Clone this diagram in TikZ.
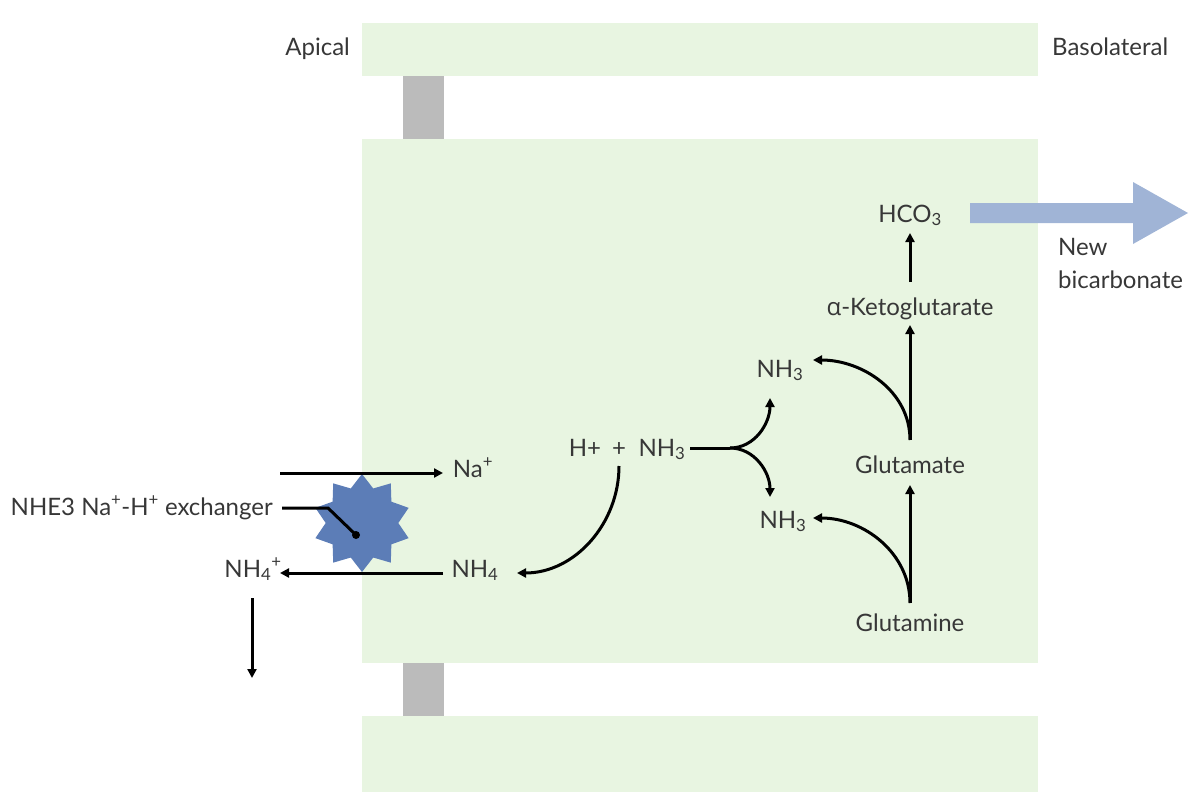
\documentclass[tikz,border=0pt]{standalone}
\usepackage{fontspec}
\setmainfont{Lato}
\newfontfamily\greekfont{Open Sans}
\usepackage{tikz}
\usetikzlibrary{arrows.meta,shapes.geometric}

\begin{document}
\begin{tikzpicture}[x=1pt,y=-1pt,
  lbl/.style={text=txt,font=\fontsize{24}{30}\selectfont,inner sep=0pt,anchor=base},
  arr/.style={line width=3pt,-{Triangle[length=9pt,width=9pt]}},
  ln/.style={line width=3pt}]
% Define colours
\definecolor{cell}{RGB}{232,245,225}
\definecolor{junc}{RGB}{187,187,187}
\definecolor{pump}{RGB}{92,125,183}
\definecolor{bicarb}{RGB}{160,180,214}
\definecolor{txt}{RGB}{55,55,55}

\useasboundingbox (0,0) rectangle (1200,806);

% Draw cells and tight junctions
\fill[cell] (362,23) rectangle (1038,76);
\fill[junc] (403,76) rectangle (444,139);
\fill[cell] (362,139) rectangle (1038,663);
\fill[junc] (403,663) rectangle (444,716);
\fill[cell] (362,716) rectangle (1038,792);

\node[lbl,anchor=base east] (apical) at (350,55) {Apical};
\node[lbl,anchor=base west] (baso) at (1052,55) {Basolateral};

% New bicarbonate arrow
\fill[bicarb] (970,203) -- (1133,203) -- (1133,182) -- (1188,213) -- (1133,244) -- (1133,223) -- (970,223) -- cycle;
\node[lbl,anchor=base west] (newbic) at (1058,255) {New};
\node[lbl,anchor=base west] (newbic2) at (1058,288) {bicarbonate};

% Metabolites
\node[lbl] (hco3) at (910,222) {HCO\textsubscript{3}};
\node[lbl] (akg) at (910,315) {{\greekfont α}-Ketoglutarate};
\node[lbl] (glu) at (910,473) {Glutamate};
\node[lbl] (gln) at (910,631) {Glutamine};
\node[lbl] (nh3a) at (780,377) {NH\textsubscript{3}};
\node[lbl] (nh3b) at (783,528) {NH\textsubscript{3}};
\node[lbl] (hplus) at (585,456) {H+};
\node[lbl] (plus) at (619,456) {+};
\node[lbl] (nh3c) at (662,456) {NH\textsubscript{3}};
\node[lbl] (nh4) at (475,577) {NH\textsubscript{4}};
\node[lbl] (nh4p) at (253,577) {NH\textsubscript{4}\textsuperscript{+}};
\node[lbl] (na) at (473,477) {Na\textsuperscript{+}};
\node[lbl,anchor=base east] (nhelbl) at (273,515) {NHE3 Na\textsuperscript{+}-H\textsuperscript{+} exchanger};

% NHE3 exchanger
\node[star,star points=10,star point ratio=1.35,fill=pump,minimum size=98pt,inner sep=0pt] (nhe) at (362,523) {};
\coordinate (nadot) at (356,535);
\coordinate (bend) at (328,508);
\coordinate (nain) at (280,473);
\coordinate (nh4out) at (252,678);
\coordinate (fork) at (730,448);

% Glutamine pathway
\draw[arr] ([yshift=33pt]akg.base) -- ([yshift=-11pt]hco3.base);
\draw[arr] ([yshift=33pt]glu.base) -- ([yshift=-10pt]akg.base);
\draw[arr] ([yshift=28pt]gln.base) -- ([yshift=-12pt]glu.base);
\draw[arr] ([yshift=33pt]glu.base) to[out=90,in=0] ([xshift=33pt,yshift=17pt]nh3a.base);
\draw[arr] ([yshift=28pt]gln.base) to[out=90,in=0] ([xshift=30pt,yshift=10pt]nh3b.base);

% Ammonia split
\draw[ln] ([xshift=28pt,yshift=8pt]nh3c.base) -- (fork);
\draw[arr] (fork) to[out=0,in=-90] ([xshift=-10pt,yshift=-21pt]nh3a.base);
\draw[arr] (fork) to[out=0,in=90] ([xshift=-13pt,yshift=31pt]nh3b.base);
\draw[arr] ([yshift=-10pt]plus.base) to[out=-90,in=0] ([xshift=42pt,yshift=4pt]nh4.base);

% Exchange across apical membrane
\draw[arr] (nain) -- ([xshift=-30pt,yshift=4pt]na.base);
\draw[arr] ([xshift=-32pt,yshift=4pt]nh4.base) -- ([xshift=27pt,yshift=4pt]nh4p.base);
\draw[arr] ([xshift=-1pt,yshift=-21pt]nh4p.base) -- (nh4out);
\draw[ln] ([xshift=9pt,yshift=7pt]nhelbl.base east) -- (bend) -- (nadot);
\fill (nadot) circle (4pt);
\end{tikzpicture}
\end{document}
